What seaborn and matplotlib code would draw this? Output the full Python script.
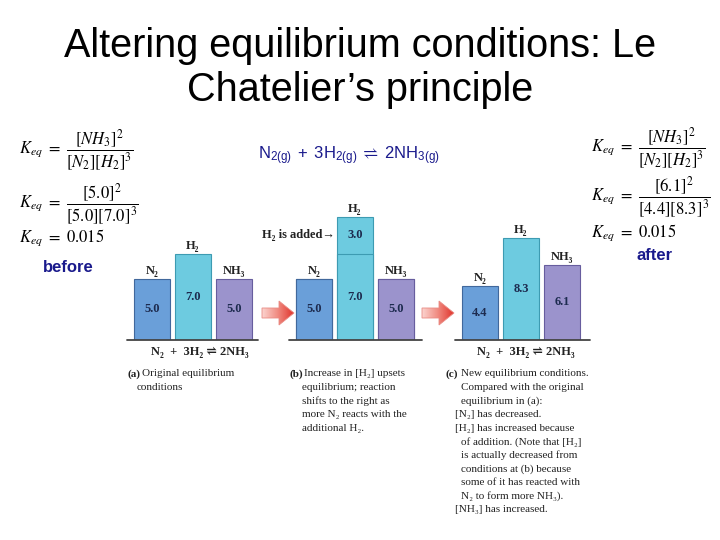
"""
Le Chatelier slide: three bar panels (before / H2 added / after) with Keq equations.
"""

import numpy as np
import pandas as pd
import matplotlib
matplotlib.use('Agg')
import matplotlib.pyplot as plt
import seaborn as sns
from matplotlib.patches import Polygon
from matplotlib.colors import LinearSegmentedColormap

sns.set_style("white")
plt.rcParams['font.family'] = ['Liberation Sans', 'DejaVu Sans']
plt.rcParams['mathtext.fontset'] = 'stix'

# data
species = ['N2', 'H2', 'NH3']
species_labels = ['N₂', 'H₂', 'NH₃']
conc_before = [5.0, 7.0, 5.0]
h2_added = [0.0, 3.0, 0.0]
conc_after = [4.4, 8.3, 6.1]
keq_value = 0.015

bar_colors = {'N2': '#6a9fd9', 'H2': '#6dcbe0', 'NH3': '#9b93cc'}
edge_colors = ['#41689c', '#3d9bb2', '#675d9e']

SERIF = ['Liberation Serif', 'DejaVu Serif', 'DejaVu Sans']
NAVY = '#1a1a8c'
VAL_COLOR = '#1d2b4f'
W, H = 720, 540
PX_UNIT_X = 41.0    # pixels between bar centres
PX_UNIT_Y = 12.3    # pixels per concentration unit
Y_TOP = 10.6

fig = plt.figure(figsize=(7.2, 5.4), dpi=100)
bg = fig.add_axes([0, 0, 1, 1])
bg.set_xlim(0, W)
bg.set_ylim(H, 0)
bg.axis('off')


def make_panel(cx, x_left, x_right, base_y=340):
    """axes whose middle bar sits at pixel cx, baseline from x_left to x_right"""
    height = Y_TOP * PX_UNIT_Y
    ax = fig.add_axes([x_left / W, (H - base_y) / H, (x_right - x_left) / W, height / H])
    ax.set_xlim(1 - (cx - x_left) / PX_UNIT_X, 1 + (x_right - cx) / PX_UNIT_X)
    return ax


def draw_bars(ax, values):
    df = pd.DataFrame({'species': species, 'conc': values})
    n0 = len(ax.patches)
    sns.barplot(data=df, x='species', y='conc', hue='species', palette=bar_colors,
                saturation=1, width=0.9, linewidth=0.8, legend=False, ax=ax)
    for patch, ec in zip(ax.patches[n0:], edge_colors):
        patch.set_edgecolor(ec)


def finish_panel(ax, xlim):
    ax.set_xlim(*xlim)
    ax.set_ylim(0, Y_TOP)
    ax.axhline(0, color='#444444', lw=1.3, clip_on=False)
    ax.set_xlabel('')
    ax.set_ylabel('')
    ax.axis('off')


def bar_texts(ax, tops, values, offsets):
    for i, (top, v, off) in enumerate(zip(tops, values, offsets)):
        ax.text(i, top + 0.15, species_labels[i], ha='center', va='bottom',
                fontsize=9, fontweight='bold', family=SERIF, color='#222222')
        ax.text(i, off, f'{v:.1f}', ha='center', va='center',
                fontsize=9, fontweight='bold', family=SERIF, color=VAL_COLOR)


# panel (a) before
ax_a = make_panel(193, 127, 258)
xl = ax_a.get_xlim()
draw_bars(ax_a, conc_before)
finish_panel(ax_a, xl)
bar_texts(ax_a, conc_before, conc_before, [v / 2 for v in conc_before])

# panel (b) H2 added: totals first, original amounts on top
ax_b = make_panel(355, 289, 422)
xl = ax_b.get_xlim()
totals = [b + a for b, a in zip(conc_before, h2_added)]
draw_bars(ax_b, totals)
draw_bars(ax_b, conc_before)
finish_panel(ax_b, xl)
bar_texts(ax_b, totals, conc_before, [v / 2 for v in conc_before])
ax_b.text(1, conc_before[1] + h2_added[1] / 2, f'{h2_added[1]:.1f}', ha='center', va='center',
          fontsize=9, fontweight='bold', family=SERIF, color=VAL_COLOR)
ax_b.text(0.52, conc_before[1] + h2_added[1] / 2, 'H₂ is added→', ha='right', va='center',
          fontsize=9, fontweight='bold', family=SERIF, color='#222222')

# panel (c) after
ax_c = make_panel(521, 455, 590)
xl = ax_c.get_xlim()
draw_bars(ax_c, conc_after)
finish_panel(ax_c, xl)
bar_texts(ax_c, conc_after, conc_after, [v / 2 for v in conc_after])

# reaction lines under panels a and c
reaction = 'N₂  +  3H₂ ⇌ 2NH₃'
for x in (200, 526):
    bg.text(x, 352, reaction, ha='center', va='center', fontsize=9,
            fontweight='bold', family=SERIF, color='#222222')

# red gradient arrows between panels
cmap = LinearSegmentedColormap.from_list('arr', ['#fbd3cf', '#f08a80', '#e0342c'])
grad = np.linspace(0, 1, 64).reshape(1, -1)
for x0 in (262, 422):
    pts = [(x0, 308), (x0 + 17, 308), (x0 + 17, 301), (x0 + 32, 313),
           (x0 + 17, 325), (x0 + 17, 318), (x0, 318)]
    poly = Polygon(pts, closed=True, facecolor='none', edgecolor='#e98b84', lw=0.6)
    bg.add_patch(poly)
    im = bg.imshow(grad, cmap=cmap, extent=(x0, x0 + 32, 326, 300), aspect='auto')
    im.set_clip_path(poly)
bg.set_xlim(0, W)
bg.set_ylim(H, 0)

# captions
LINE = 13.6


def caption(x_tag, x_text, y0, tag, lines):
    bg.text(x_tag, y0, tag, ha='left', va='center', fontsize=8, fontweight='bold',
            family=SERIF, color='#222222')
    for k, (dx, line) in enumerate(lines):
        x = x_text if k == 0 else dx
        bg.text(x, y0 + k * LINE, line, ha='left', va='center', fontsize=8,
                family=SERIF, color='#222222')


caption(127, 142, 374, '(a)', [(0, 'Original equilibrium'), (137, 'conditions')])
caption(290, 304, 374, '(b)', [(0, 'Increase in [H₂] upsets'),
                               (302, 'equilibrium; reaction'),
                               (302, 'shifts to the right as'),
                               (302, 'more N₂ reacts with the'),
                               (302, 'additional H₂.')])
caption(446, 461, 374, '(c)', [(0, 'New equilibrium conditions.'),
                               (461, 'Compared with the original'),
                               (461, 'equilibrium in (a):'),
                               (455, '[N₂] has decreased.'),
                               (455, '[H₂] has increased because'),
                               (461, 'of addition. (Note that [H₂]'),
                               (461, 'is actually decreased from'),
                               (461, 'conditions at (b) because'),
                               (461, 'some of it has reacted with'),
                               (461, 'N₂ to form more NH₃).'),
                               (455, '[NH₃] has increased.')])

# Keq equations
EQ_FS = 12
eq_general = r'$K_{eq}\ =\ \dfrac{[NH_3]^2}{[N_2][H_2]^3}$'


def keq_block(x, ys, vals):
    n2, h2, nh3 = vals
    bg.text(x, ys[0], eq_general, ha='left', va='center', fontsize=EQ_FS, color='black')
    bg.text(x, ys[1], r'$K_{eq}\ =\ \dfrac{[%.1f]^2}{[%.1f][%.1f]^3}$' % (nh3, n2, h2),
            ha='left', va='center', fontsize=EQ_FS, color='black')
    bg.text(x, ys[2], r'$K_{eq}\ =\ %.3f$' % keq_value, ha='left', va='center',
            fontsize=EQ_FS, color='black')


keq_block(19, (150, 204, 238), conc_before)
keq_block(591, (148, 197, 233), conc_after)

bg.text(68, 267, 'before', ha='center', va='center', fontsize=12, fontweight='bold', color=NAVY)
bg.text(655, 255, 'after', ha='center', va='center', fontsize=12, fontweight='bold', color=NAVY)

bg.text(258, 156, r'$\mathregular{N_{2(g)}\ +\ 3H_{2(g)}\ \rightleftharpoons\ 2NH_{3(g)}}$',
        ha='left', va='center', fontsize=12, color=NAVY)

# title
bg.text(360, 68, 'Altering equilibrium conditions: Le\nChatelier’s principle',
        ha='center', va='center', fontsize=28.5, linespacing=1.2, color='black')

fig.savefig('out.png', dpi=100)
